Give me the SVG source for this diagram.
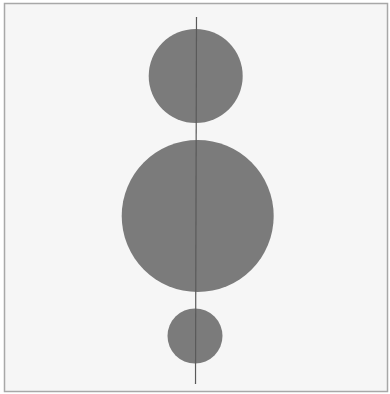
<svg xmlns="http://www.w3.org/2000/svg" width="390" height="394" viewBox="0 0 390 394">
<style>
.c{fill:#7b7b7b}
.ax{stroke:#5a5a5a;stroke-width:1.2;fill:none}
</style>
<rect x="0" y="0" width="390" height="394" fill="#ffffff"/>
<rect x="4.5" y="3.5" width="383" height="388" fill="#f6f6f6" stroke="#a8a8a8" stroke-width="1.5"/>
<g id="circle-top"><circle class="c" cx="195.7" cy="76" r="47"/></g>
<g id="circle-middle"><circle class="c" cx="197.7" cy="216" r="76"/></g>
<g id="circle-bottom"><circle class="c" cx="195" cy="336" r="27.5"/></g>
<g id="connectors"><line class="ax" x1="196.5" y1="17" x2="195.5" y2="384"/></g>
</svg>
